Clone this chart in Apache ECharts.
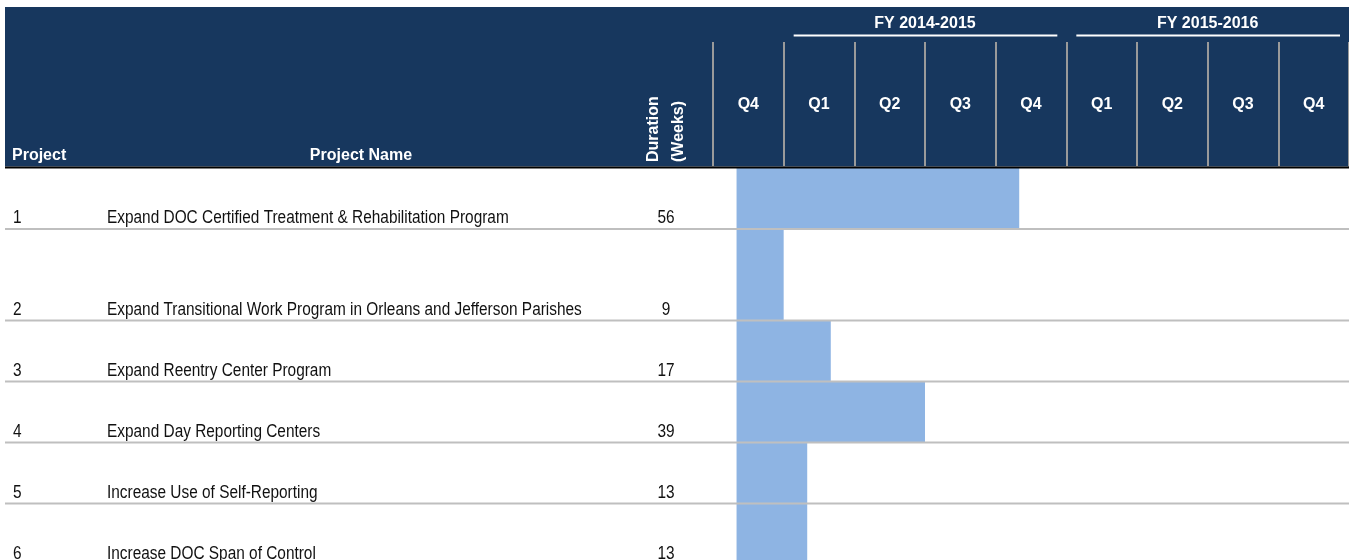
<!DOCTYPE html>
<html>
<head>
<meta charset="utf-8">
<script src="https://cdn.jsdelivr.net/npm/echarts@6/dist/echarts.min.js"></script>
<style>
    html, body { margin: 0; padding: 0; background: #fff; }
    #chart { width: 1349px; height: 560px; }
</style>
</head>
<body>
<div id="chart"></div>
<script>
////////////////////////////////////////////
/////////////////  data  ///////////////////
////////////////////////////////////////////

const projectIds = ['1', '2', '3', '4', '5', '6'];
const projectNames = [
    'Expand DOC Certified Treatment & Rehabilitation Program',
    'Expand Transitional Work Program in Orleans and Jefferson Parishes',
    'Expand Reentry Center Program',
    'Expand Day Reporting Centers',
    'Increase Use of Self-Reporting',
    'Increase DOC Span of Control'
];
const durationWeeks = [56, 9, 17, 39, 13, 13];
// bar start / end, in months from the start of the first quarter shown
const startMonth = [1, 1, 1, 1, 1, 1];
const endMonth = [13, 3, 5, 9, 4, 4];
// row heights (row 2 is taller in the source sheet)
const rowSpans = [1, 1.5, 1, 1, 1, 1];
const quarterLabels = ['Q4', 'Q1', 'Q2', 'Q3', 'Q4', 'Q1', 'Q2', 'Q3', 'Q4'];
const fiscalYears = ['FY 2014-2015', 'FY 2015-2016'];
const fiscalYearFirstQuarter = [1, 5];
const quartersPerYear = 4;
const monthsPerQuarter = 3;

// no Arial Narrow here: squeeze Liberation Sans instead
const BODY_FONT = "'Liberation Sans', Arial, sans-serif";
const HEADER_BG = '#17375E';
const BAR_COLOR = '#8EB4E3';
const ROW_LINE = '#BFBFBF';
const TEXT_COLOR = '#111';
const ROW_PX = 61;

let rowTop = [], rowBottom = [];
let acc = 0;
rowSpans.forEach(s => { rowTop.push(acc); acc += s; rowBottom.push(acc); });
const totalRows = acc;
const totalMonths = quarterLabels.length * monthsPerQuarter;

const barData = projectIds.map((id, i) => [startMonth[i], endMonth[i], rowTop[i], rowBottom[i]]);
const rowData = projectIds.map((id, i) => [0, rowBottom[i], i]);

////////////////////////////////////////////
/////////  chart generation  ///////////////
////////////////////////////////////////////

function renderBar(params, api) {
    const p0 = api.coord([api.value(0), api.value(2)]);
    const p1 = api.coord([api.value(1), api.value(3)]);
    return {
        type: 'rect',
        shape: { x: p0[0], y: p0[1], width: p1[0] - p0[0], height: p1[1] - p0[1] },
        style: { fill: BAR_COLOR }
    };
}

function renderRow(params, api) {
    const i = api.value(2);
    const yb = api.coord([0, api.value(1)])[1];
    const ty = yb - 10.5;
    const txt = { fill: TEXT_COLOR, fontFamily: BODY_FONT, fontSize: 17.5, verticalAlign: 'middle' };
    return {
        type: 'group',
        children: [
            { type: 'line', shape: { x1: 5, y1: yb, x2: api.getWidth(), y2: yb },
              style: { stroke: ROW_LINE, lineWidth: 2 } },
            { type: 'text', x: 13, y: ty, scaleX: 0.88, style: Object.assign({ text: projectIds[i], align: 'left' }, txt) },
            { type: 'text', x: 107, y: ty, scaleX: 0.88, style: Object.assign({ text: projectNames[i], align: 'left' }, txt) },
            { type: 'text', x: 666, y: ty, scaleX: 0.88, style: Object.assign({ text: String(durationWeeks[i]), align: 'center' }, txt) }
        ]
    };
}

const chart = echarts.init(document.getElementById('chart'), null, { renderer: 'canvas' });
const option = {
    animation: false,
    grid: { left: 713, right: 0, top: 168, height: totalRows * ROW_PX, outerBoundsMode: 'none', containLabel: false },
    xAxis: [
        { type: 'value', min: 0, max: totalMonths, show: false },
        {
            type: 'category', data: quarterLabels, position: 'top',
            axisLine: { show: false },
            axisTick: { show: true, length: 126, lineStyle: { color: '#9a9a9a', width: 2 } },
            axisLabel: { color: '#fff', fontFamily: BODY_FONT, fontWeight: 'bold', fontSize: 16, margin: 55 },
            splitLine: { show: false }
        }
    ],
    yAxis: { type: 'value', min: 0, max: totalRows, inverse: true, show: false },
    series: [
        { type: 'custom', name: 'bars', renderItem: renderBar, data: barData,
          encode: { x: [0, 1], y: [2, 3] }, z: 2 },
        { type: 'custom', name: 'rows', renderItem: renderRow, data: rowData,
          encode: { x: 0, y: 1 }, z: 3, clip: false }
    ]
};
chart.setOption(option);

// header decorations (fiscal year spans positioned through the x scale)
const headerText = { fill: '#fff', fontFamily: BODY_FONT, fontWeight: 'bold', fontSize: 16, verticalAlign: 'middle' };
const headerGraphics = [
    { type: 'rect', z: -1, shape: { x: 5, y: 7, width: 1344, height: 159.5 }, style: { fill: HEADER_BG } },
    { type: 'line', z: 10, shape: { x1: 5, y1: 167.5, x2: 1349, y2: 167.5 }, style: { stroke: '#000', lineWidth: 2 } },
    { type: 'text', z: 10, x: 12, y: 155.5, style: Object.assign({ text: 'Project', align: 'left' }, headerText) },
    { type: 'text', z: 10, x: 361, y: 155.5, style: Object.assign({ text: 'Project Name', align: 'center' }, headerText) },
    { type: 'text', z: 10, x: 666, y: 162, rotation: Math.PI / 2,
      style: { text: 'Duration\n(Weeks)', fill: '#fff', fontFamily: BODY_FONT, fontWeight: 'bold', fontSize: 16, lineHeight: 25, align: 'left', verticalAlign: 'middle' } }
];
fiscalYears.forEach((fy, k) => {
    const m0 = fiscalYearFirstQuarter[k] * monthsPerQuarter;
    const m1 = m0 + quartersPerYear * monthsPerQuarter;
    const x0 = chart.convertToPixel({ xAxisIndex: 0 }, m0);
    const x1 = chart.convertToPixel({ xAxisIndex: 0 }, m1);
    headerGraphics.push({ type: 'line', z: 10, shape: { x1: x0 + 10, y1: 35.5, x2: x1 - 9, y2: 35.5 }, style: { stroke: '#fff', lineWidth: 2 } });
    headerGraphics.push({ type: 'text', z: 10, x: (x0 + x1) / 2, y: 23.5, style: Object.assign({ text: fy, align: 'center' }, headerText) });
});
chart.setOption({ graphic: { elements: headerGraphics } });
</script>
</body>
</html>
